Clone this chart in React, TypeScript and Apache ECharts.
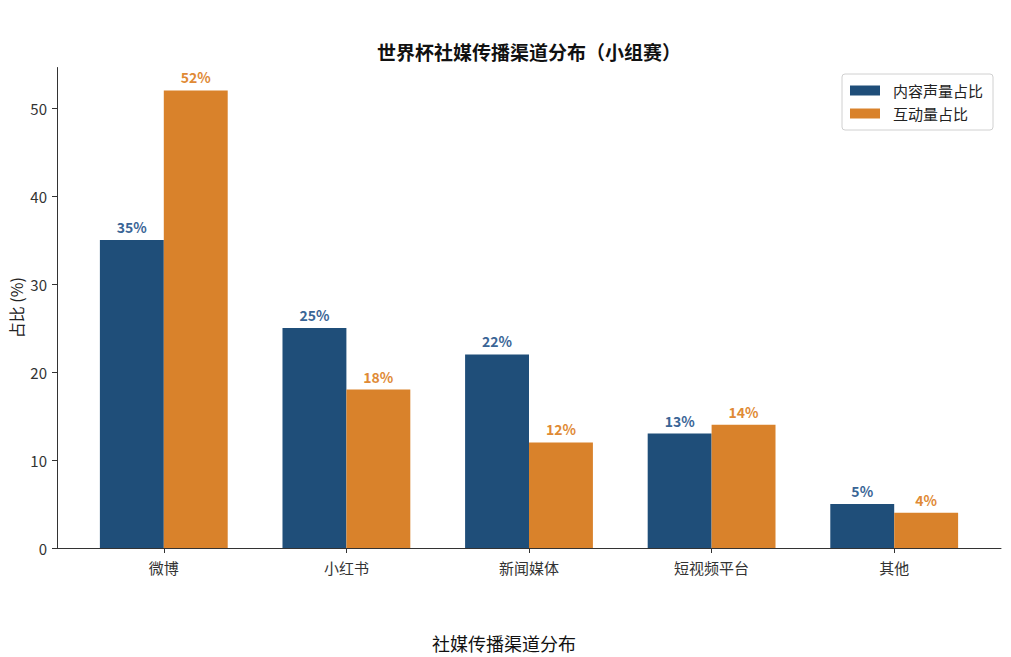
import React, { useEffect, useRef } from "react";
import * as echarts from "echarts";

const categories = ["微博", "小红书", "新闻媒体", "短视频平台", "其他"];
const contentShare = [35, 25, 22, 13, 5];
const interactionShare = [52, 18, 12, 14, 4];
const yTicks = [0, 10, 20, 30, 40, 50];
const seriesNames = ["内容声量占比", "互动量占比"];

const FONT = "'Noto Sans CJK SC', 'Noto Sans', sans-serif";
const BLUE = "#1f4e79";
const ORANGE = "#d9822b";
const YMAX = 54.6;

export default function App() {
  const ref = useRef<HTMLDivElement>(null);
  useEffect(() => {
    if (!ref.current) return;
    const chart = echarts.init(ref.current, undefined, { renderer: "svg" });
    chart.setOption({
      animation: false,
      backgroundColor: "#ffffff",
      textStyle: { fontFamily: FONT },
      graphic: [
        {
          type: "text",
          x: 529,
          y: 51,
          style: {
            text: "世界杯社媒传播渠道分布（小组赛）",
            fontFamily: FONT,
            fontSize: 19,
            fontWeight: "bold",
            fill: "#111",
            textAlign: "center",
            textVerticalAlign: "middle",
          },
        },
        {
          type: "text",
          x: 504,
          y: 643,
          style: {
            text: "社媒传播渠道分布",
            fontFamily: FONT,
            fontSize: 18,
            fill: "#111",
            textAlign: "center",
            textVerticalAlign: "middle",
          },
        },
      ],
      legend: {
        orient: "vertical",
        left: 842,
        top: 74,
        data: seriesNames,
        icon: "rect",
        itemWidth: 30,
        itemHeight: 10,
        itemGap: 8,
        padding: [9, 10, 9, 8],
        borderColor: "#d0d0d0",
        borderWidth: 1,
        borderRadius: 3,
        textStyle: { fontFamily: FONT, fontSize: 15, color: "#222", padding: [0, 0, 0, 8] },
      },
      grid: [
        { left: 57, right: 10, top: 548 - YMAX * 8.8, bottom: 109, containLabel: false, outerBoundsMode: "none" },
        { left: 72.5, right: 25.5, top: 548 - YMAX * 8.8, bottom: 109, containLabel: false, outerBoundsMode: "none" },
      ],
      xAxis: [
        {
          type: "value",
          gridIndex: 0,
          min: -0.585,
          max: 4.585,
          axisLine: { show: true, onZero: false, lineStyle: { color: "#333", width: 1 } },
          axisTick: { show: false },
          axisLabel: { show: false },
          splitLine: { show: false },
        },
        {
          type: "category",
          gridIndex: 1,
          data: categories,
          axisLine: { show: false },
          axisTick: { show: true, alignWithLabel: true, length: 5, lineStyle: { color: "#333" } },
          axisLabel: { fontFamily: FONT, fontSize: 15, color: "#333", margin: 12 },
          splitLine: { show: false },
        },
      ],
      yAxis: [
        {
          type: "value",
          gridIndex: 0,
          min: 0,
          max: YMAX,
          interval: 10,
          name: "占比 (%)",
          nameLocation: "middle",
          nameRotate: 90,
          nameGap: 33,
          nameMoveOverlap: false,
          nameTextStyle: { fontFamily: FONT, fontSize: 16, color: "#222" },
          axisLine: { show: true, onZero: false, lineStyle: { color: "#333", width: 1 } },
          axisTick: { show: true, length: 5, lineStyle: { color: "#333" }, customValues: yTicks },
          axisLabel: { fontFamily: FONT, fontSize: 15, color: "#333", margin: 10, customValues: yTicks },
          splitLine: { show: false },
        },
        {
          type: "value",
          gridIndex: 1,
          min: 0,
          max: YMAX,
          show: false,
          splitLine: { show: false },
        },
      ],
      series: [
        {
          name: seriesNames[0],
          type: "bar",
          xAxisIndex: 1,
          yAxisIndex: 1,
          data: contentShare,
          barWidth: "35%",
          barGap: "0%",
          itemStyle: { color: BLUE },
          label: {
            show: true,
            position: "top",
            distance: 6,
            formatter: (p: any) => p.value + "%",
            fontFamily: FONT,
            fontSize: 14,
            fontWeight: "bold",
            color: "#3a6596",
          },
        },
        {
          name: seriesNames[1],
          type: "bar",
          xAxisIndex: 1,
          yAxisIndex: 1,
          data: interactionShare,
          barWidth: "35%",
          barGap: "0%",
          itemStyle: { color: ORANGE },
          label: {
            show: true,
            position: "top",
            distance: 6,
            formatter: (p: any) => p.value + "%",
            fontFamily: FONT,
            fontSize: 14,
            fontWeight: "bold",
            color: "#e08a35",
          },
        },
      ],
    });
    return () => chart.dispose();
  }, []);
  return (
    <div
      ref={ref}
      style={{ position: "fixed", left: 0, top: 0, width: 1011, height: 657 }}
    />
  );
}
